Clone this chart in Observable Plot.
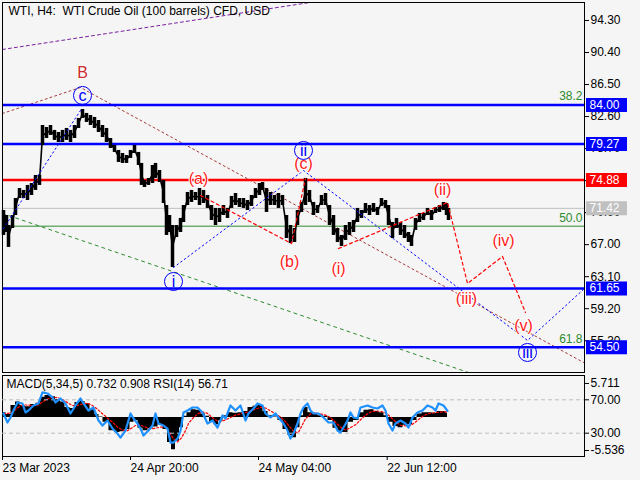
<!DOCTYPE html>
<html><head><meta charset="utf-8">
<script src="https://cdn.jsdelivr.net/npm/d3@7"></script>
<script src="https://cdn.jsdelivr.net/npm/@observablehq/plot@0.6"></script>
<style>
html,body{margin:0;padding:0;background:#f5f5f5;}
#chart{position:relative;width:640px;height:480px;overflow:hidden;}
#chart svg{position:absolute;left:0;}
</style></head><body><div id="chart"></div>
<script>
// ---------- DATA ----------
const title = "WTI, H4:  WTI Crude Oil (100 barrels) CFD, USD";
const priceTicks = [94.30, 90.40, 86.50, 82.60, 78.70, 74.80, 70.90, 67.00, 63.10, 59.20, 55.30];
const timeTicks = [2, 130, 258, 386.7];
const timeLabels = ["23 Mar 2023", "24 Apr 20:00", "24 May 04:00", "22 Jun 12:00"];

// H4 bars (bar position, high, low)
const barX = [3,6,8,12,15,19,23,27,31,35,
  39,42,46,50,54,58,62,66,70,74,
  78,82,86,90,94,98,102,106,110,114,
  118,122,126,130,134,138,141,144,148,152,
  155,159,163,166,169,172,176,180,183,187,
  191,195,199,203,207,211,215,219,223,227,
  231,235,239,243,247,251,255,259,262,266,
  270,274,278,282,286,290,294,297,301,305,
  309,313,317,321,325,329,333,337,341,345,
  349,353,357,361,365,369,373,377,381,385,
  388,392,396,400,404,408,411,415,419,423,
  427,431,435,439,443,446,448];
const barHigh = [71.16,70.55,69.33,70.55,72.62,73.84,73.60,74.21,74.45,75.42,
  75.42,81.51,81.27,81.51,80.91,80.66,80.91,81.15,80.91,81.51,
  82.37,83.46,82.98,82.73,82.49,82.12,81.51,81.15,79.93,79.08,
  78.47,78.10,77.86,78.47,79.08,78.23,76.89,74.82,75.06,76.64,
  76.89,76.03,74.82,71.77,70.55,69.33,69.33,70.19,71.77,73.35,
  73.60,73.35,73.84,73.60,72.99,71.77,71.41,71.41,71.77,71.41,
  72.87,73.23,72.62,72.62,72.38,72.99,73.84,74.45,74.57,73.84,
  73.35,72.99,73.23,72.99,70.55,69.33,68.97,71.16,72.14,75.06,
  73.60,72.14,71.77,72.99,73.23,71.77,70.55,68.97,68.12,69.33,
  69.70,69.94,71.41,71.16,72.01,71.77,72.01,71.53,72.62,72.38,
  71.77,69.70,70.19,69.70,69.33,68.48,68.12,70.19,70.80,70.80,
  71.41,71.16,71.53,71.77,72.14,72.01,71.41];
const barLow = [68.12,68.48,66.66,68.97,70.55,72.62,72.62,72.38,72.99,73.60,
  74.21,79.08,79.93,80.30,79.69,79.44,79.44,79.69,79.44,79.93,
  81.15,82.37,81.88,81.51,81.15,80.66,80.05,79.44,78.71,78.23,
  77.01,76.89,76.89,77.50,78.10,76.64,74.21,73.96,74.21,74.45,
  75.06,74.57,72.01,68.12,68.48,64.22,67.87,68.48,69.70,71.77,
  72.14,72.38,71.77,72.01,71.41,69.94,69.33,69.70,70.55,70.19,
  71.41,71.77,71.53,71.41,71.16,71.65,72.62,72.99,73.60,70.92,
  71.77,71.77,71.41,71.77,67.75,67.14,67.26,69.33,70.92,71.77,
  72.14,70.55,70.80,71.77,71.77,69.33,68.12,67.26,66.78,67.51,
  68.12,68.48,69.70,70.19,70.80,70.55,70.92,70.55,71.65,71.41,
  69.33,67.75,68.97,68.12,67.75,67.26,66.78,68.73,69.70,69.94,
  70.55,69.94,70.80,70.92,71.16,70.55,69.94];

// horizontal levels
const levelValues = [84.00, 79.27, 74.88, 71.42, 61.65, 54.50];
const levelLabels = ["84.00", "79.27", "74.88", "71.42", "61.65", "54.50"];
const levelColors = ["#0000ff", "#0000ff", "#ff0000", "#c0c0c0", "#0000ff", "#0000ff"];
const levelWidths = [2.5, 2.5, 2.5, 1, 2.5, 2.5];
const fibLevel = 69.25;
const fibLabels = ["38.2", "50.0", "61.8"];
const fibPrices = [85.05, 70.19, 55.45];

// wave lines
const purpleBar = [2, 310], purplePrice = [90.77, 96.50];
const brownBar = [2, 80, 584], brownPrice = [82.98, 86.14, 52.59];
const greenBar = [2, 468], greenPrice = [70.80, 51.43];
const blue1Bar = [3, 80], blue1Price = [68.97, 83.34];
const blue2Bar = [173, 303, 527, 584], blue2Price = [64.22, 76.03, 55.33, 61.66];
const red1Bar = [200, 291, 305], red1Price = [72.99, 67.14, 75.06];
const red2Bar = [338, 447, 467, 502, 525], red2Price = [66.53, 72.14, 62.27, 65.56, 58.74];

// wave labels
const redText = ["B", "(a)", "(c)", "(b)", "(i)", "(ii)", "(iv)", "(iii)", "(v)"];
const redBar = [82, 198, 303, 289, 338, 442, 503, 466, 523];
const redPrice = [87.97, 75.06, 76.89, 64.95, 64.10, 73.72, 67.51, 60.44, 57.16];
const redColor = ["#cc2a2a", "#ff1a1a", "#ff1a1a", "#ff1a1a", "#ff1a1a", "#ff1a1a", "#ff1a1a", "#ff1a1a", "#ff1a1a"];
const circText = ["c", "ii", "i", "iii"];
const circBar = [82, 303, 173, 527];
const circPrice = [85.17, 78.47, 62.51, 53.87];

// MACD / RSI panel
const macdTitle = "MACD(5,34,5) 0.732 0.908 RSI(14) 56.71";
const macdBar = [3,8,13,17,22,27,33,38,42,47,52,58,62,67,72,77,82,87,92,97,
  100,105,112,117,122,127,132,135,140,145,150,155,160,165,169,173,177,181,185,188,
  193,198,203,207,211,216,220,225,230,235,240,245,250,255,260,265,270,275,280,285,
  290,294,298,301,305,310,315,320,325,330,335,340,345,350,356,361,366,371,376,381,
  386,390,395,400,405,410,414,419,424,429,434,439,444,447];
const macdVal = [0.8,0.5,2.0,2.6,2.0,1.8,2.2,2.4,3.4,3.7,3.5,3.0,2.6,1.7,1.5,2.5,2.7,2.3,1.3,0.5,
  0.1,-0.8,-2.2,-2.5,-2.4,-2.0,-0.8,-0.5,-1.8,-2.2,-1.9,-1.6,-1.2,-2.0,-4.2,-5.4,-4.0,-1.7,0.2,0.8,
  1.3,1.2,0.6,0.2,-0.8,-1.2,-0.6,0.3,0.8,0.7,0.8,1.0,1.7,1.9,2.0,1.0,0.3,0.1,-0.5,-2.0,
  -3.0,-3.4,-1.7,0.3,1.7,0.8,0.5,0.3,0.2,-0.5,-1.8,-2.5,-2.5,-0.8,-0.5,0.8,1.2,1.3,1.0,0.8,
  0.3,-0.8,-1.5,-1.7,-1.3,-1.2,-0.5,0.6,0.8,0.8,0.7,1.0,1.0,0.73];
const signalVal = [0.6,0.7,1.0,1.6,2.1,2.1,2.0,2.1,2.6,3.1,3.4,3.3,3.0,2.5,2.0,2.0,2.3,2.4,2.0,1.4,
  0.9,0.2,-0.8,-1.6,-2.1,-2.2,-1.7,-1.3,-1.3,-1.6,-1.9,-1.8,-1.6,-1.6,-2.5,-3.6,-4.1,-3.4,-2.2,-1.0,
  0.0,0.7,0.9,0.7,0.1,-0.5,-0.7,-0.4,0.0,0.4,0.6,0.8,1.1,1.4,1.7,1.6,1.1,0.6,0.1,-0.7,
  -1.7,-2.5,-2.5,-1.5,-0.2,0.6,0.8,0.6,0.4,0.0,-0.8,-1.6,-2.1,-1.7,-1.1,-0.2,0.5,1.0,1.1,1.0,
  0.7,0.1,-0.7,-1.3,-1.4,-1.3,-0.9,-0.2,0.4,0.7,0.8,0.9,1.0,0.91];
const rsiBar = [3,7,10,13,17,22,25,28,33,38,42,47,52,55,60,65,70,75,80,83,
  88,93,98,102,107,112,117,120,125,130,133,137,140,143,148,152,155,158,163,167,
  170,173,177,180,183,187,192,197,202,207,212,217,222,225,230,235,240,245,248,253,
  257,262,265,270,275,278,283,287,290,293,297,300,303,307,310,313,318,323,328,333,
  337,340,343,347,350,353,357,360,367,372,377,382,385,388,392,395,400,405,408,412,
  417,422,427,432,435,438,443,447];
const rsiVal = [53.6,42.8,48.8,57.2,66.8,65.6,54.8,57.2,63.2,65.6,78.8,77.6,72.8,66.8,71.6,65.6,53.6,63.2,71.6,65.6,
  57.2,60.8,45.2,39.2,45.2,35.6,29.6,24.8,33.2,53.6,47.6,41.6,35.6,27.2,33.2,39.2,53.6,41.6,39.2,35.6,
  18.8,18.8,23.6,33.2,54.8,57.2,60.8,60.8,54.8,41.6,45.2,36.8,51.2,47.6,63.2,57.2,63.2,45.2,53.6,59.6,
  65.6,63.2,53.6,48.8,53.6,48.8,41.6,33.2,23.6,29.6,41.6,53.6,60.8,65.6,57.2,53.6,53.6,48.8,42.8,42.8,
  33.2,30.8,36.8,45.2,54.8,48.8,47.6,60.8,63.2,60.8,59.6,63.2,57.2,41.6,33.2,41.6,45.2,41.6,36.8,48.8,
  54.8,57.2,63.2,60.8,57.2,65.6,63.2,56.71];
const rsiLevels = [70, 30];
const macdTicks = [5.711, -5.536];

// ---------- DRAW ----------
const FONT = "'Liberation Sans', Arial, sans-serif";
const xDomain = [2, 584];
const idx = a => d3.range(a.length);
const path = (bars, prices, opts) => Plot.line(idx(bars), {x: i => bars[i], y: i => prices[i], ...opts});
const baseStyle = {background: "transparent", fontFamily: FONT, fontSize: "12px", overflow: "visible", color: "black"};

const main = Plot.plot({
  width: 640, height: 375, marginTop: 2, marginBottom: 3, marginLeft: 2, marginRight: 56,
  x: {domain: xDomain, axis: null},
  y: {domain: [51.43, 96.49]},
  color: {type: "identity"},
  style: baseStyle,
  marks: [
    Plot.axisY({anchor: "right", ticks: priceTicks, tickFormat: d => d.toFixed(2), tickSize: 4, tickPadding: 2, fontSize: 12}),
    Plot.ruleY([fibLevel], {stroke: "#2e8b2e", strokeWidth: 1}),
    path(greenBar, greenPrice, {stroke: "#2e8b2e", strokeWidth: 1, strokeDasharray: "3,4", clip: true}),
    path(purpleBar, purplePrice, {stroke: "#7a1fa0", strokeWidth: 1, strokeDasharray: "3,3", clip: true}),
    path(brownBar, brownPrice, {stroke: "#a83a3a", strokeWidth: 1, strokeDasharray: "2,3", clip: true}),
    Plot.ruleY(levelValues, {y: d => d, stroke: (d, i) => levelColors[i], strokeWidth: (d, i) => levelWidths[i]}),
    Plot.ruleX(idx(barX), {x: i => barX[i], y1: i => barLow[i], y2: i => barHigh[i], stroke: "black", strokeWidth: 3.5}),
    Plot.line(idx(barX), {x: i => barX[i], y: i => (barLow[i] + barHigh[i]) / 2, stroke: "black", strokeWidth: 1.6}),
    path(blue1Bar, blue1Price, {stroke: "#0000ff", strokeWidth: 1, strokeDasharray: "1.5,3"}),
    path(blue2Bar, blue2Price, {stroke: "#0000ff", strokeWidth: 1, strokeDasharray: "1.5,3"}),
    path(red1Bar, red1Price, {stroke: "#ff0000", strokeWidth: 1.2, strokeDasharray: "3,3"}),
    path(red2Bar, red2Price, {stroke: "#ff0000", strokeWidth: 1.2, strokeDasharray: "3,3"}),
    Plot.text(idx(redText), {x: i => redBar[i], y: i => redPrice[i], text: i => redText[i], fill: i => redColor[i],
      fontSize: 16, stroke: "white", strokeWidth: 2, paintOrder: "stroke"}),
    Plot.dot(idx(circText), {x: i => circBar[i], y: i => circPrice[i], r: 9, stroke: "#0000ff", strokeWidth: 1, fill: "none"}),
    Plot.text(idx(circText), {x: i => circBar[i], y: i => circPrice[i], text: i => circText[i], fill: "#0000ff", fontSize: 16}),
    Plot.text(idx(fibLabels), {x: 582, y: i => fibPrices[i], text: i => fibLabels[i], fill: "#2e8b2e", textAnchor: "end", fontSize: 12}),
    Plot.ruleY(levelValues, {y: d => d, x1: 586, x2: 627, stroke: (d, i) => levelColors[i], strokeWidth: 14}),
    Plot.text(levelValues, {x: 589, y: d => d, text: (d, i) => levelLabels[i], fill: "white", textAnchor: "start", fontSize: 12}),
    Plot.frame({stroke: "black"}),
    Plot.text([title], {frameAnchor: "top-left", dx: 6, dy: 4, lineAnchor: "top", textAnchor: "start", fontSize: 12, fill: "black"})
  ]
});

const sub = Plot.plot({
  width: 640, height: 105, marginTop: 0, marginBottom: 24, marginLeft: 2, marginRight: 56,
  x: {domain: xDomain},
  y: {domain: [-6.54, 7.05]},
  style: baseStyle,
  marks: [
    Plot.areaY(idx(macdBar), {x: i => macdBar[i], y: i => macdVal[i], curve: "step", fill: "black"}),
    Plot.line(idx(macdBar), {x: i => macdBar[i], y: i => signalVal[i], stroke: "#ff0000", strokeWidth: 1.2, strokeDasharray: "2,2"}),
    Plot.axisY({anchor: "right", ticks: macdTicks, tickFormat: d => d.toFixed(3), tickSize: 4, tickPadding: 2, fontSize: 12}),
    Plot.axisX({ticks: timeTicks, tickFormat: d => timeLabels[timeTicks.indexOf(d)], textAnchor: "start", tickSize: 4, tickPadding: 3, fontSize: 12}),
    Plot.frame({stroke: "black"}),
    Plot.text([macdTitle], {frameAnchor: "top-left", dx: 4, dy: 4, lineAnchor: "top", textAnchor: "start", fontSize: 12, fill: "black"})
  ]
});

const rsi = Plot.plot({
  width: 640, height: 105, marginTop: 0, marginBottom: 24, marginLeft: 2, marginRight: 56,
  x: {domain: xDomain, axis: null},
  y: {domain: [2.1, 99.1]},
  style: baseStyle,
  marks: [
    Plot.ruleY(rsiLevels, {stroke: "#bdbdbd", strokeDasharray: "4,3"}),
    Plot.line(idx(rsiBar), {x: i => rsiBar[i], y: i => rsiVal[i], stroke: "#1e90ff", strokeWidth: 2.2}),
    Plot.axisY({anchor: "right", ticks: rsiLevels, tickFormat: d => d.toFixed(2), tickSize: 4, tickPadding: 2, fontSize: 12})
  ]
});

const root = document.getElementById("chart");
main.style.top = "0px";
sub.style.top = "375px";
rsi.style.top = "375px";
root.append(main, sub, rsi);
</script>
</body></html>
